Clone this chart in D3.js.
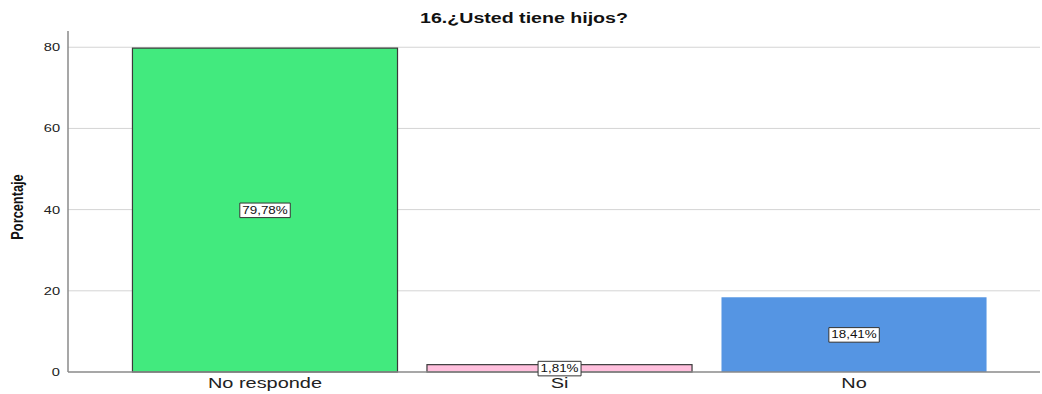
<!DOCTYPE html>
<html>
<head>
<meta charset="utf-8">
<script src="https://cdn.jsdelivr.net/npm/d3@7"></script>
<style>
  html, body { margin: 0; padding: 0; background: #fff; }
  svg { display: block; font-family: "Liberation Sans", Arial, sans-serif; }
</style>
</head>
<body>
<svg id="chart" width="1042" height="394"></svg>
<script>
const categories = ["No responde", "Si", "No"];
const percentages = [79.78, 1.81, 18.41];
const valueLabels = ["79,78%", "1,81%", "18,41%"];
const yTicks = [0, 20, 40, 60, 80];
const barColors = ["#42ea7e", "#ffbfdd", "#5595e3"];
const barStrokes = ["#3a3a3a", "#3a3a3a", "none"];

// Wide-set lettering: glyphs are stretched horizontally
const WIDE = 1.33;

const svg = d3.select("#chart");
const plot = { left: 68, right: 1040, top: 31, bottom: 372 };

const y = d3.scaleLinear().domain([0, 84]).range([plot.bottom, plot.top]);
const x = d3.scaleBand()
  .domain(categories)
  .range([103, 1016])
  .paddingInner(0.1)
  .paddingOuter(0.1);

// Title
svg.append("g")
  .attr("transform", `translate(524,23) scale(1.4,1)`)
  .append("text")
  .attr("text-anchor", "middle")
  .style("font-size", "14px").style("font-weight", "bold")
  .attr("fill", "#111")
  .text("16.¿Usted tiene hijos?");

// Horizontal gridlines
svg.append("g").selectAll("line")
  .data(yTicks.filter(d => d > 0))
  .join("line")
  .attr("x1", plot.left).attr("x2", plot.right)
  .attr("y1", d => y(d)).attr("y2", d => y(d))
  .attr("stroke", "#d4d4d4").attr("stroke-width", 1);

// Y axis
const yAxis = svg.append("g")
  .attr("transform", `translate(${plot.left},0)`)
  .call(d3.axisLeft(y).tickValues(yTicks).tickSize(0).tickPadding(8));
yAxis.select(".domain").remove();
yAxis.selectAll("text")
  .attr("x", -8 / WIDE)
  .attr("transform", `scale(${WIDE},1)`)
  .style("font-size", "11px").attr("fill", "#222")
  .style("font-family", "'Liberation Sans', Arial, sans-serif");

svg.append("line")
  .attr("x1", plot.left).attr("x2", plot.left)
  .attr("y1", plot.top).attr("y2", plot.bottom)
  .attr("stroke", "#8a8a8a").attr("stroke-width", 1.5);

// Y axis title (condensed bold)
svg.append("text")
  .attr("transform", `translate(23,207) rotate(-90) scale(0.8,1)`)
  .attr("text-anchor", "middle")
  .style("font-size", "16px").style("font-weight", "bold")
  .attr("fill", "#111")
  .text("Porcentaje");

// Bars
const data = categories.map((c, i) => ({ c, v: percentages[i], label: valueLabels[i], i }));

svg.append("g").selectAll("rect")
  .data(data)
  .join("rect")
  .attr("x", d => x(d.c))
  .attr("y", d => y(d.v))
  .attr("width", x.bandwidth())
  .attr("height", d => y(0) - y(d.v))
  .attr("fill", d => barColors[d.i])
  .attr("stroke", d => barStrokes[d.i])
  .attr("stroke-width", 1.2);

// Baseline
svg.append("line")
  .attr("x1", plot.left).attr("x2", plot.right)
  .attr("y1", plot.bottom).attr("y2", plot.bottom)
  .attr("stroke", "#8a8a8a").attr("stroke-width", 1.5);

// X axis labels
const xAxis = svg.append("g")
  .attr("transform", `translate(0,${plot.bottom})`)
  .call(d3.axisBottom(x).tickSize(0).tickPadding(5));
xAxis.select(".domain").remove();
xAxis.selectAll("text")
  .attr("transform", `scale(${WIDE},1)`)
  .style("font-size", "15px").attr("fill", "#222")
  .style("font-family", "'Liberation Sans', Arial, sans-serif");

// Value labels in boxes at bar mid-height
const lab = svg.append("g").selectAll("g")
  .data(data)
  .join("g")
  .attr("transform", d => `translate(${x(d.c) + x.bandwidth() / 2},${y(d.v / 2)}) scale(1.22,1)`);

lab.append("text")
  .attr("text-anchor", "middle")
  .attr("dy", "0.35em")
  .style("font-size", "11px")
  .attr("fill", "#111")
  .text(d => d.label)
  .each(function () {
    const bb = this.getBBox();
    d3.select(this.parentNode).insert("rect", "text")
      .attr("x", bb.x - 2).attr("y", bb.y - 1)
      .attr("width", bb.width + 4).attr("height", bb.height + 2)
      .attr("fill", "#fff").attr("stroke", "#333").attr("stroke-width", 1)
      .attr("vector-effect", "non-scaling-stroke");
  });
</script>
</body>
</html>
